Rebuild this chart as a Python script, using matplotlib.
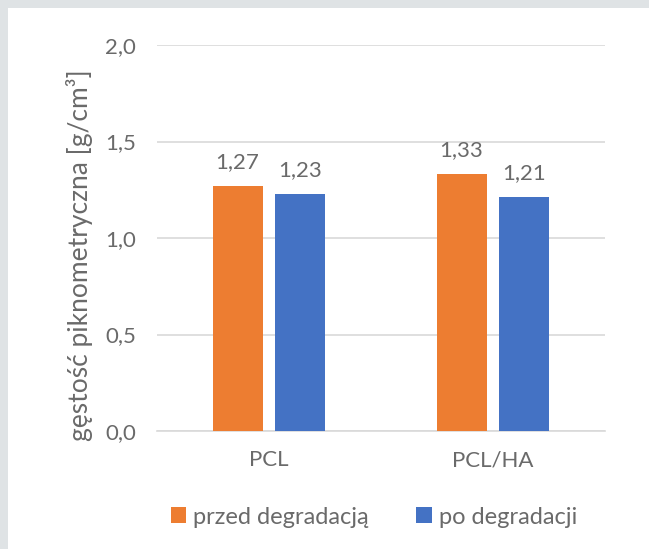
import matplotlib
matplotlib.use("Agg")
import matplotlib.pyplot as plt
import numpy as np
from matplotlib.patches import Rectangle

plt.rcParams["font.family"] = ["Lato", "DejaVu Sans"]

categories = ["PCL", "PCL/HA"]
series_names = ["przed degradacją", "po degradacji"]
before = [1.27, 1.33]
after = [1.23, 1.21]
yticks = [0.0, 0.5, 1.0, 1.5, 2.0]

ORANGE = "#ED7D31"
BLUE = "#4472C4"
TEXT = "#6A6A6A"
GRID = "#D9D9D9"
FS = 16

fig = plt.figure(figsize=(6.49, 5.49), dpi=100, facecolor="#DFE3E5")
# white card sitting inside the grey frame (frame only on top/left)
fig.patches.append(Rectangle((8 / 649, 0), 1, 1 - 8 / 549, transform=fig.transFigure,
                             facecolor="white", edgecolor="none", zorder=-1))

ax = fig.add_axes([157 / 649, 1 - 431 / 549, 448 / 649, 386 / 549])
ax.set_facecolor("none")

x = np.arange(len(categories))
w = 0.223
off = (w + 0.058) / 2
b1 = ax.bar(x - off, before, w, color=ORANGE, label=series_names[0], zorder=3)
b2 = ax.bar(x + off, after, w, color=BLUE, label=series_names[1], zorder=3)

for bars in (b1, b2):
    for rect in bars:
        v = rect.get_height()
        ax.annotate(f"{v:.2f}".replace(".", ","),
                    (rect.get_x() + rect.get_width() / 2, v),
                    xytext=(0, 10), textcoords="offset points",
                    ha="center", va="bottom", fontsize=FS, color=TEXT)

ax.set_xlim(-0.5, 1.5)
ax.set_ylim(0, 2.0)
ax.set_yticks(yticks)
ax.set_yticklabels([f"{t:.1f}".replace(".", ",") for t in yticks])
ax.set_xticks(x)
ax.set_xticklabels(categories)
ax.tick_params(axis="both", length=0, labelsize=FS, labelcolor=TEXT)
ax.tick_params(axis="y", pad=15)
ax.tick_params(axis="x", pad=14)
ax.grid(axis="y", color=GRID, linewidth=1.2, zorder=0)
for s in ("top", "right", "left"):
    ax.spines[s].set_visible(False)
ax.spines["bottom"].set_color(GRID)
ax.spines["bottom"].set_linewidth(1.2)

fig.text(80 / 649, 1 - 255 / 549, "gęstość piknometryczna [g/cm³]", rotation=90,
         ha="center", va="center", fontsize=19, color=TEXT)

fig.legend(handles=[b1, b2], labels=series_names, loc="center",
           bbox_to_anchor=(374 / 649, 1 - 517 / 549), ncol=2, frameon=False,
           fontsize=17, labelcolor=TEXT, handlelength=0.65, handleheight=0.65,
           handletextpad=0.3, columnspacing=2.0)

fig.savefig("out.png", dpi=100, facecolor=fig.get_facecolor())
